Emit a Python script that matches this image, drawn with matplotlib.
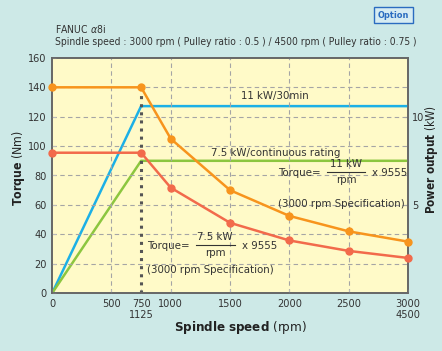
import matplotlib
matplotlib.use("Agg")
import matplotlib.pyplot as plt
from matplotlib import font_manager

# condensed face if we have one
names = {f.name for f in font_manager.fontManager.ttflist}
fam = "Liberation Sans Narrow" if "Liberation Sans Narrow" in names else "DejaVu Sans"
plt.rcParams["font.family"] = [fam]
plt.rcParams["font.stretch"] = "condensed"
plt.rcParams["mathtext.fontset"] = "custom"
plt.rcParams["mathtext.rm"] = fam + ":stretch=condensed"
plt.rcParams["mathtext.bf"] = fam + ":bold:stretch=condensed"
plt.rcParams["mathtext.it"] = fam + ":italic:stretch=condensed"

# data
speed = [0, 750, 1000, 1500, 2000, 2500, 3000]
torque_30min = [140, 140, 105, 70, 52.5, 42, 35]
torque_cont = [95.5, 95.5, 71.7, 47.8, 35.8, 28.7, 23.9]
power_speed = [0, 750, 3000]
power_30min = [0, 10.6, 10.6]
power_cont = [0, 7.5, 7.5]
xticks = [0, 500, 750, 1000, 1500, 2000, 2500, 3000]
xtick_labels = ["0", "500", "750\n1125", "1000", "1500", "2000", "2500", "3000\n4500"]
yticks = [0, 20, 40, 60, 80, 100, 120, 140, 160]
kw_ticks = [5, 10]

bg = "#cde9e7"
face = "#fffac8"
c_blue = "#1cb0e6"
c_green = "#8cc63f"
c_orange = "#f7941d"
c_red = "#f26a4b"
txt = "#333333"

fig = plt.figure(figsize=(4.42, 3.51), dpi=100, facecolor=bg)
ax = fig.add_axes([0.118, 0.165, 0.805, 0.67])
ax.set_xlim(0, 3000)
ax.set_ylim(0, 160)

ax.set_xticks(xticks)
ax.set_xticklabels(xtick_labels, fontsize=7.8, color=txt)
ax.set_yticks(yticks)
ax.set_yticklabels([str(v) for v in yticks], fontsize=7.8, color=txt)
ax.tick_params(direction="in", length=3, color="#bbbbbb", pad=4)

for v in [500, 1000, 1500, 2000, 2500]:
    ax.axvline(v, color="#a5a5a5", ls=(0, (4, 3)), lw=0.8, zorder=1)
for v in yticks[1:-1]:
    ax.axhline(v, color="#a5a5a5", ls=(0, (4, 3)), lw=0.8, zorder=1)

ax.vlines(750, 0, 140, color="#555555", ls=":", lw=2.2, zorder=2)

ax2 = ax.twinx()
ax2.set_ylim(0, 160 / 12)
ax2.set_yticks(kw_ticks)
ax2.set_yticklabels([str(v) for v in kw_ticks], fontsize=7.8, color=txt)
ax2.tick_params(direction="in", length=3, color="#888888", pad=3)
ax2.plot(power_speed, power_30min, color=c_blue, lw=1.8, zorder=3)
ax2.plot(power_speed, power_cont, color=c_green, lw=1.8, zorder=3)

ax.set_zorder(ax2.get_zorder() + 1)
ax.patch.set_visible(False)
ax2.patch.set_facecolor(face)
ax2.patch.set_visible(True)

ax.plot(speed, torque_30min, color=c_orange, lw=1.8, marker="o", ms=5,
        clip_on=False, zorder=4)
ax.plot(speed, torque_cont, color=c_red, lw=1.8, marker="o", ms=5,
        clip_on=False, zorder=4)

for a in (ax, ax2):
    for s in a.spines.values():
        s.set_color("#666666")
        s.set_linewidth(1.2)

ax.set_xlabel(r"$\mathbf{Spindle\ speed}$ (rpm)", fontsize=9.5, color="#222222")
ax.xaxis.set_label_coords(0.528, -0.112)
ax.set_ylabel(r"$\mathbf{Torque}$ (Nm)", fontsize=8.8, color="#222222")
ax.yaxis.set_label_coords(-0.07, 0.53)
ax2.set_ylabel(r"$\mathbf{Power\ output}$ (kW)", fontsize=8.4, color="#222222")
ax2.yaxis.set_label_coords(1.043, 0.566)

fs = 8.2
ax.text(1880, 134, "11 kW/30min", ha="center", va="center", fontsize=fs, color=txt, zorder=5)
ax.text(1885, 95.5, "7.5 kW/continuous rating", ha="center", va="center", fontsize=fs,
        color=txt, zorder=5)

# formula for 11 kW
ax.text(1905, 82, "Torque=", ha="left", va="center", fontsize=fs, color=txt, zorder=5)
ax.text(2480, 88, "11 kW", ha="center", va="center", fontsize=fs, color=txt, zorder=5)
ax.plot([2320, 2640], [82.5, 82.5], color=txt, lw=0.8, zorder=5)
ax.text(2480, 77, "rpm", ha="center", va="center", fontsize=fs, color=txt, zorder=5)
ax.text(2990, 82, "x 9555", ha="right", va="center", fontsize=fs, color=txt, zorder=5)
ax.text(1905, 60.5, "(3000 rpm Specification)", ha="left", va="center", fontsize=fs,
        color=txt, zorder=5)

# formula for 7.5 kW
ax.text(800, 32, "Torque=", ha="left", va="center", fontsize=fs, color=txt, zorder=5)
ax.text(1375, 38, "7.5 kW", ha="center", va="center", fontsize=fs, color=txt, zorder=5)
ax.plot([1210, 1540], [32.5, 32.5], color=txt, lw=0.8, zorder=5)
ax.text(1375, 27, "rpm", ha="center", va="center", fontsize=fs, color=txt, zorder=5)
ax.text(1600, 32, "x 9555", ha="left", va="center", fontsize=fs, color=txt, zorder=5)
ax.text(800, 16, "(3000 rpm Specification)", ha="left", va="center", fontsize=fs,
        color=txt, zorder=5)

fig.text(0.124, 0.918, r"FANUC $\alpha$8i", fontsize=7.5, color=txt, va="center")
fig.text(0.124, 0.880, "Spindle speed : 3000 rpm ( Pulley ratio : 0.5 ) / 4500 rpm ( Pulley ratio : 0.75 )",
         fontsize=7.4, color=txt, va="center")
fig.text(0.890, 0.957, "Option", fontsize=6.6, color="#2a6cc0", fontweight="bold",
         ha="center", va="center",
         bbox=dict(boxstyle="square,pad=0.4", fc="#d6ecf2", ec="#2a6cc0", lw=1))

fig.savefig("out.png", dpi=100, facecolor=bg)
